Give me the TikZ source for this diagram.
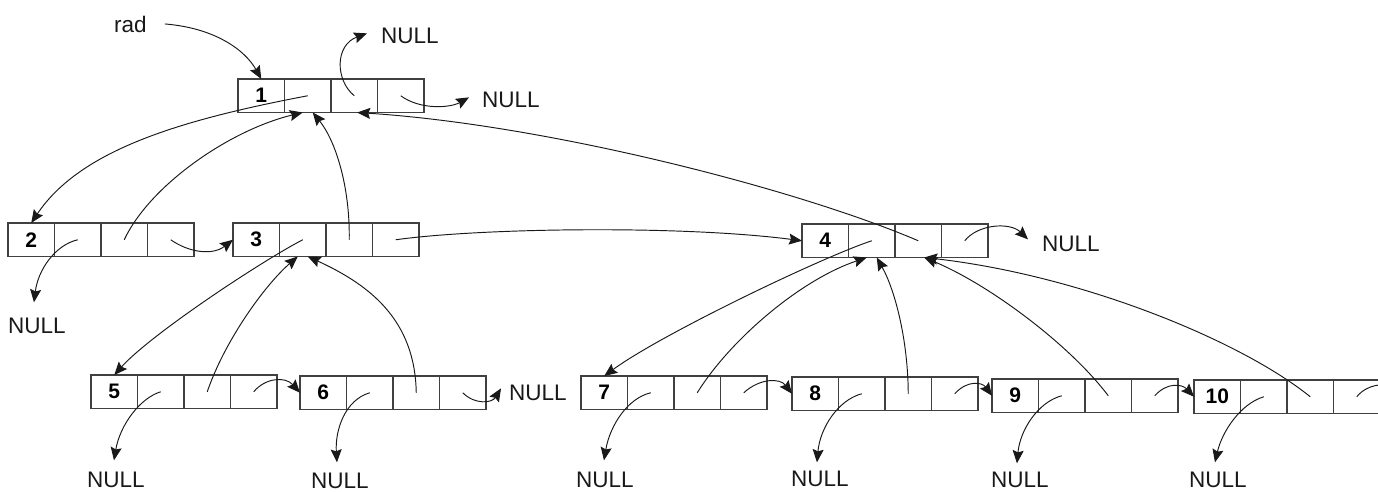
\documentclass[tikz,border=0pt]{standalone}
\usepackage{fontspec}
\setmainfont{Liberation Sans}
\usetikzlibrary{arrows.meta}
\tikzset{
  cell/.style={draw=black!75, line width=1.1pt, minimum width=46.5pt, minimum height=33.5pt,
    inner sep=0pt, outer sep=0pt, anchor=north west, font=\fontsize{21}{24}\selectfont\bfseries},
  ptr/.style={draw=black!90, line width=0.95pt, -{Stealth[length=13pt,width=11pt,inset=2pt]}},
  nul/.style={inner sep=0pt, anchor=base west, font=\fontsize{22.5}{26}\selectfont, text=black!90},
}
\newcommand\mkcells[4]{%
  \node[cell] (#1k) at (#2,#3) {#4};
  \node[cell] (#1c) at (#1k.north east) {};
  \node[cell] (#1p) at (#1c.north east) {};
  \node[cell] (#1s) at (#1p.north east) {};
}
\begin{document}
\begin{tikzpicture}[x=1pt,y=-1pt]
\clip (0,0) rectangle (1378,491);
\fill[white] (0,0) rectangle (1378,491);
% list nodes
\mkcells{n1}{238}{79}{1}
\mkcells{n2}{8}{223}{2}
\mkcells{n3}{233}{223}{3}
\mkcells{n4}{802}{224}{4}
\mkcells{n5}{91}{375}{5}
\mkcells{n6}{300}{376}{6}
\mkcells{n7}{581}{376}{7}
\mkcells{n8}{792}{377}{8}
\mkcells{n9}{992}{379}{9}
\mkcells{n10}{1194}{380}{10}
% labels
\node[nul] (rad) at (114,32) {rad};
\node[nul] (nulla) at (381,43) {NULL};
\node[nul] (nullb) at (482,107) {NULL};
\node[nul] (null2) at (8,333) {NULL};
\node[nul] (null4) at (1042,251) {NULL};
\node[nul] (null5) at (87,487) {NULL};
\node[nul] (null6) at (311,488) {NULL};
\node[nul] (null6r) at (509,400) {NULL};
\node[nul] (null7) at (576,487) {NULL};
\node[nul] (null8) at (791,486) {NULL};
\node[nul] (null9) at (991,487) {NULL};
\node[nul] (null10) at (1189,487) {NULL};
\coordinate (off10) at (1400,392);
% node 1
\draw[ptr] ([xshift=18pt]rad.east) .. controls (215,28) and (245,50) .. (n1k.north);
\draw[ptr] (n1c.center) .. controls (180,120) and (80,150) .. (n2k.north);
\draw[ptr] (n1p.center) .. controls (335,80) and (335,45) .. ([xshift=-14pt,yshift=2pt]nulla.west);
\draw[ptr] (n1s.center) .. controls (420,110) and (450,108) .. ([xshift=-13pt,yshift=2pt]nullb.west);
% node 2
\draw[ptr] (n2c.center) .. controls (55,245) and (38,270) .. ([xshift=-3pt,yshift=15pt]null2.north);
\draw[ptr] (n2p.center) .. controls (150,185) and (230,130) .. ([xshift=-5pt]n1c.south);
\draw[ptr] (n2s.center) .. controls (188,252) and (212,256) .. (n3k.west);
% node 3
\draw[ptr] (n3c.center) .. controls (260,262) and (150,335) .. (n5k.north);
\draw[ptr] (n3p.center) .. controls (350,185) and (335,140) .. ([xshift=5pt]n1c.south);
\draw[ptr] (n3s.center) .. controls (480,228) and (680,225) .. (n4k.west);
% node 4
\draw[ptr] (n4c.center) .. controls (820,258) and (660,335) .. (n7k.north);
\draw[ptr] (n4p.center) .. controls (800,190) and (550,125) .. ([xshift=3pt]n1p.south);
\draw[ptr] (n4s.center) .. controls (978,224) and (1010,222) .. ([xshift=-14pt,yshift=4pt]null4.west);
% node 5
\draw[ptr] (n5c.center) .. controls (140,398) and (120,425) .. ([xshift=-2pt,yshift=11pt]null5.north);
\draw[ptr] (n5p.center) .. controls (225,340) and (265,285) .. ([xshift=-5pt]n3c.south);
\draw[ptr] (n5s.center) .. controls (265,378) and (285,376) .. (n6k.west);
% node 6
\draw[ptr] (n6c.center) .. controls (345,400) and (335,430) .. ([xshift=-3pt,yshift=10pt]null6.north);
\draw[ptr] (n6p.center) .. controls (415,320) and (370,285) .. ([xshift=5pt]n3c.south);
\draw[ptr] (n6s.center) .. controls (475,405) and (492,403) .. ([xshift=-8pt,yshift=4pt]null6r.west);
% node 7
\draw[ptr] (n7c.center) .. controls (628,398) and (610,425) .. ([xshift=-1pt,yshift=11pt]null7.north);
\draw[ptr] (n7p.center) .. controls (730,340) and (800,280) .. ([xshift=-5pt]n4c.south);
\draw[ptr] (n7s.center) .. controls (760,378) and (780,378) .. (n8k.west);
% node 8
\draw[ptr] (n8c.center) .. controls (838,400) and (820,428) .. ([xshift=-3pt,yshift=8pt]null8.north);
\draw[ptr] (n8p.center) .. controls (908,340) and (895,290) .. ([xshift=5pt]n4c.south);
\draw[ptr] (n8s.center) .. controls (967,380) and (982,382) .. (n9k.west);
% node 9
\draw[ptr] (n9c.center) .. controls (1038,402) and (1020,430) .. ([xshift=-3pt,yshift=8pt]null9.north);
\draw[ptr] (n9p.center) .. controls (1070,345) and (990,285) .. ([xshift=6pt]n4p.south);
\draw[ptr] (n9s.center) .. controls (1167,382) and (1182,384) .. (n10k.west);
% node 10
\draw[ptr] (n10c.center) .. controls (1240,404) and (1222,432) .. ([xshift=-3pt,yshift=9pt]null10.north);
\draw[ptr] (n10p.center) .. controls (1240,340) and (1080,275) .. ([xshift=6pt]n4p.south);
\draw[ptr] (n10s.center) .. controls (1367,384) and (1385,383) .. (off10);
\end{tikzpicture}
\end{document}
